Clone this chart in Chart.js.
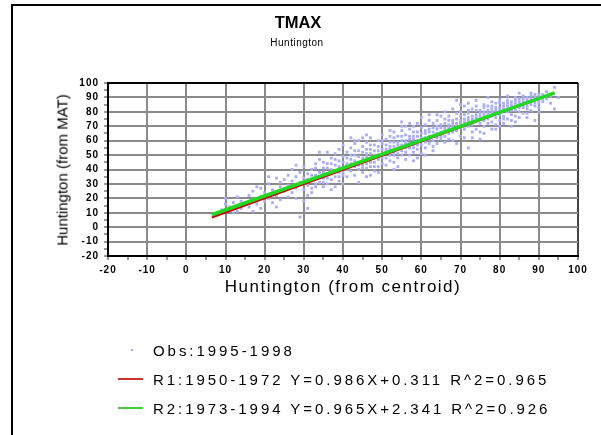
<!DOCTYPE html>
<html>
<head>
<meta charset="utf-8">
<script src="https://cdn.jsdelivr.net/npm/chart.js@4.4.1/dist/chart.umd.min.js"></script>
<style>
  body { margin: 0; background: #fff; font-family: "Liberation Sans", Arial, sans-serif; }
  #wrap { position: relative; width: 601px; height: 435px; overflow: hidden; }
  #frame { position: absolute; left: 11px; top: 4px; width: 620px; height: 460px; border-left: 2px solid #000; border-top: 2px solid #000; }
  canvas { position: absolute; left: 0; top: 0; }
  .txt { position: absolute; white-space: nowrap; color: #000; }
  #title { left: 298px; top: 22px; transform: translate(-50%, -50%); font-weight: bold; font-size: 16.5px; }
  #subtitle { left: 297px; top: 42px; transform: translate(-50%, -50%); font-size: 10px; letter-spacing: 0.5px; }
  #ytitle { left: 62px; top: 170px; transform: translate(-50%, -50%) rotate(-90deg); font-size: 15px; }
  #xtitle { left: 343px; top: 287px; transform: translate(-50%, -50%); font-size: 17px; letter-spacing: 1.5px; }
  .leg { position: absolute; left: 153px; font-size: 15px; letter-spacing: 2.95px; transform: translateY(-50%); white-space: pre; }
  .legline { position: absolute; left: 118px; width: 25px; height: 2px; }
  .legdot { position: absolute; left: 131px; width: 2px; height: 2px; background: #aab0f0; }
</style>
</head>
<body>
<div id="wrap">
  <div id="frame"></div>
  <canvas id="myChart" width="601" height="435"></canvas>
  <div class="txt" id="title">TMAX</div>
  <div class="txt" id="subtitle">Huntington</div>
  <div class="txt" id="ytitle">Huntington (from MAT)</div>
  <div class="txt" id="xtitle">Huntington (from centroid)</div>
  <div id="legend"></div>
</div>
<script>
var obsX = [8, 9, 10, 11, 12, 12, 13, 14, 14, 15, 10, 13,
    16, 16, 17, 17, 18, 18, 19, 19, 20, 20, 21, 21, 21, 22, 22, 23, 23, 24, 24, 24, 25, 25, 17, 19, 23,
    26, 26, 26, 27, 27, 27, 28, 28, 28, 29, 29, 29, 30, 30, 30, 31, 31, 31, 31, 32, 32, 32, 33, 33, 33, 34, 34, 34, 34, 35, 35, 35, 28, 30, 32, 35,
    36, 36, 36, 37, 37, 37, 38, 38, 38, 38, 39, 39, 39, 39, 40, 40, 40, 40, 41, 41, 41, 41, 42, 42, 42, 42, 43, 43, 43, 43, 44, 44, 44, 44, 45, 45, 45, 45, 46, 46, 46, 46, 47, 47, 47, 47, 48, 48, 48, 48, 49, 49, 49, 49, 50, 50, 50, 50, 37, 40, 44, 36,
    51, 51, 51, 51, 52, 52, 52, 52, 53, 53, 53, 53, 54, 54, 54, 54, 55, 55, 55, 55, 56, 56, 56, 56, 57, 57, 57, 57, 58, 58, 58, 58, 59, 59, 59, 59, 60, 60, 60, 60, 61, 61, 61, 61, 62, 62, 62, 62, 63, 63, 63, 63, 64, 64, 64, 64, 65, 65, 65, 65, 54, 58, 60, 56,
    66, 66, 66, 66, 67, 67, 67, 67, 68, 68, 68, 68, 69, 69, 69, 69, 70, 70, 70, 70, 71, 71, 71, 71, 72, 72, 72, 72, 73, 73, 73, 73, 74, 74, 74, 74, 75, 75, 75, 75, 76, 76, 76, 76, 77, 77, 77, 77, 78, 78, 78, 78, 79, 79, 79, 79, 80, 80, 80, 80, 71, 75, 78,
    81, 81, 81, 81, 82, 82, 82, 82, 83, 83, 83, 83, 84, 84, 84, 84, 85, 85, 85, 85, 86, 86, 86, 86, 87, 87, 87, 87, 88, 88, 88, 88, 89, 89, 89, 89, 90, 90, 90,
    91, 91, 92, 92, 93, 93, 94, 95, 94,
    30, 31, 32, 33, 33, 34, 35, 35, 36, 36, 37, 37, 38, 38, 39, 39, 40, 40, 41, 41,
    42, 42, 43, 43, 44, 44, 45, 45, 45, 46, 46, 46, 47, 47, 47, 48, 48, 48, 49, 49, 50, 50, 50, 43, 45, 47, 49, 46,
    51, 51, 52, 52, 53, 53, 53, 54, 54, 55, 55, 55, 56, 56, 57, 57, 58, 58, 58, 59, 59, 60, 60, 61, 61, 62, 62, 63, 63, 64, 64, 65, 65, 52, 55, 57, 59, 61, 63, 64, 62, 53,
    66, 66, 67, 67, 68, 68, 69, 69, 70, 70, 71, 71, 72, 72, 73, 73, 74, 74, 75, 75, 76, 76, 77, 77, 78, 78, 79, 79, 80, 80, 68, 70, 72, 74, 69, 73, 76, 79, 66, 77,
    81, 81, 82, 82, 83, 83, 84, 84, 85, 85, 86, 86, 87, 87, 88, 88, 89, 89, 90, 90, 91, 92, 81, 84, 87, 82, 85, 80, 83, 90];
var obsY = [9, 12, 20, 14, 17, 10, 21, 13, 18, 16, 16, 11,
    22, 14, 19, 25, 16, 28, 21, 13, 24, 18, 30, 20, 35, 26, 17, 34, 22, 28, 19, 31, 25, 33, 11, 27, 14,
    29, 21, 36, 24, 32, 40, 27, 35, 20, 7, 31, 38, 26, 34, 42, 13, 29, 37, 22, 33, 40, 27, 36, 44, 30, 38, 31, 47, 52, 34, 41, 28, 43, 18, 24, 45,
    37, 44, 30, 40, 48, 33, 35, 43, 51, 28, 38, 46, 54, 32, 41, 49, 36, 57, 44, 52, 35, 40, 47, 39, 55, 62, 42, 50, 36, 58, 45, 53, 40, 31, 48, 56, 43, 38, 51, 44, 59, 35, 47, 54, 42, 62, 50, 57, 45, 39, 53, 47, 60, 42, 51, 58, 44, 64, 26, 30, 60, 52,
    54, 48, 61, 43, 56, 50, 63, 46, 52, 59, 66, 45, 57, 51, 63, 48, 60, 53, 67, 73, 58, 52, 64, 47, 61, 55, 68, 50, 63, 57, 70, 52, 60, 66, 54, 72, 62, 57, 69, 51, 65, 59, 71, 55, 63, 68, 58, 74, 66, 60, 72, 56, 68, 62, 74, 58, 66, 71, 61, 77, 42, 46, 76, 70,
    69, 63, 75, 59, 71, 65, 77, 61, 70, 66, 74, 60, 72, 67, 79, 88, 74, 69, 63, 80, 73, 68, 78, 62, 76, 70, 55, 81, 75, 71, 66, 82, 78, 73, 68, 84, 77, 72, 81, 66, 80, 74, 70, 85, 79, 75, 72, 84, 82, 77, 73, 87, 81, 76, 71, 86, 83, 78, 74, 88, 84, 61, 68,
    82, 77, 86, 72, 84, 80, 88, 75, 83, 78, 87, 74, 86, 81, 90, 77, 85, 80, 89, 76, 87, 83, 91, 79, 86, 82, 90, 79, 89, 85, 93, 81, 88, 84, 74, 92, 90, 86, 83,
    92, 87, 89, 94, 91, 86, 97, 90, 82,
    30, 33, 36, 28, 41, 35, 38, 31, 41, 34, 44, 37, 39, 47, 42, 35, 45, 38, 48, 42,
    44, 50, 46, 53, 49, 43, 52, 46, 41, 49, 54, 41, 51, 45, 57, 53, 48, 42, 56, 50, 54, 48, 60, 60, 62, 36, 38, 64,
    52, 57, 54, 59, 56, 50, 62, 59, 54, 57, 63, 50, 60, 55, 63, 58, 61, 66, 55, 63, 57, 65, 60, 62, 67, 66, 61, 69, 63, 65, 70, 69, 63, 67, 70, 72, 48, 50, 53, 78, 78, 40,
    67, 72, 69, 74, 72, 68, 70, 75, 72, 77, 75, 70, 74, 79, 77, 73, 76, 81, 79, 75, 78, 83, 81, 77, 80, 84, 83, 79, 81, 86, 82, 85, 86, 88, 58, 62, 65, 68, 80, 90,
    80, 84, 82, 86, 81, 85, 84, 88, 83, 87, 85, 89, 84, 88, 87, 91, 86, 90, 88, 92, 89, 91, 75, 73, 76, 91, 93, 70, 70, 80];

// regression line end points
var r1X = [6.5, 94];
var r1Y = [6.7, 93.0];
var r2X = [6.5, 94];
var r2Y = [8.6, 93.1];

var legendLabels = [
    "Obs:1995-1998",
    "R1:1950-1972 Y=0.986X+0.311 R^2=0.965",
    "R2:1973-1994 Y=0.965X+2.341 R^2=0.926"
];
var axisMin = -20, axisMax = 100;

function toPoints(xs, ys) {
    var pts = [];
    for (var i = 0; i < xs.length; i++) {
        pts.push({ x: xs[i], y: ys[i] });
    }
    return pts;
}

function gridColor(ctx, edge) {
    var v = ctx.tick ? ctx.tick.value : 0;
    if (v % 10 !== 0) return 'rgba(0,0,0,0)';
    if (v === axisMax) return edge;
    return '#8a8a8a';
}

function tickLabel(val) {
    return val % 10 === 0 ? val : '';
}

var spacing = {
    id: 'spacing',
    beforeDraw: function (chart) { chart.ctx.letterSpacing = '1px'; },
    afterDraw: function (chart) { chart.ctx.letterSpacing = '0px'; }
};

var tickFont = { family: "'Liberation Sans', Arial, sans-serif", size: 10, weight: 'bold' };

new Chart(document.getElementById('myChart'), {
    type: 'scatter',
    data: {
        datasets: [{
            label: legendLabels[0],
            data: toPoints(obsX, obsY),
            backgroundColor: '#a9aef2',
            borderWidth: 0,
            pointStyle: 'rect',
            pointRadius: 2,
            order: 2
        }, {
            label: legendLabels[1],
            data: toPoints(r1X, r1Y),
            showLine: true,
            borderColor: '#c80000',
            borderWidth: 2,
            pointRadius: 0,
            order: 1
        }, {
            label: legendLabels[2],
            data: toPoints(r2X, r2Y),
            showLine: true,
            borderColor: '#22d822',
            borderWidth: 3.5,
            pointRadius: 0,
            order: 0
        }]
    },
    options: {
        responsive: false,
        animation: false,
        layout: { padding: { left: 50, top: 83, right: 23, bottom: 135 } },
        plugins: {
            legend: { display: false },
            tooltip: { enabled: false }
        },
        scales: {
            x: {
                type: 'linear',
                min: axisMin,
                max: axisMax,
                afterFit: function (s) { s.height = 44; },
                ticks: {
                    stepSize: 5,
                    autoSkip: false,
                    maxRotation: 0,
                    padding: 4,
                    color: '#000',
                    font: tickFont,
                    callback: tickLabel
                },
                grid: {
                    color: function (ctx) { return gridColor(ctx, '#444'); },
                    lineWidth: 2,
                    tickColor: '#333',
                    tickWidth: 1,
                    tickLength: 4
                },
                border: { color: '#000', width: 2 }
            },
            y: {
                type: 'linear',
                min: axisMin,
                max: axisMax,
                afterFit: function (s) { s.width = 58; },
                ticks: {
                    stepSize: 5,
                    autoSkip: false,
                    padding: 5,
                    color: '#000',
                    font: tickFont,
                    callback: tickLabel
                },
                grid: {
                    color: function (ctx) { return gridColor(ctx, '#000'); },
                    lineWidth: 2,
                    tickColor: '#333',
                    tickWidth: 1,
                    tickLength: 4
                },
                border: { color: '#000', width: 2 }
            }
        }
    },
    plugins: [spacing]
});

// legend below the chart
var legendRows = [
    { y: 350, kind: 'dot', color: '#aab0f0' },
    { y: 379, kind: 'line', color: '#d03030' },
    { y: 408, kind: 'line', color: '#44cc44' }
];
var html = '';
legendRows.forEach(function (row, i) {
    if (row.kind === 'dot') {
        html += '<div class="legdot" style="top:' + (row.y - 1) + 'px"></div>';
    } else {
        html += '<div class="legline" style="top:' + (row.y - 1) + 'px;background:' + row.color + '"></div>';
    }
    html += '<div class="txt leg" style="top:' + row.y + 'px">' + legendLabels[i] + '</div>';
});
document.getElementById('legend').innerHTML = html;
</script>
</body>
</html>
